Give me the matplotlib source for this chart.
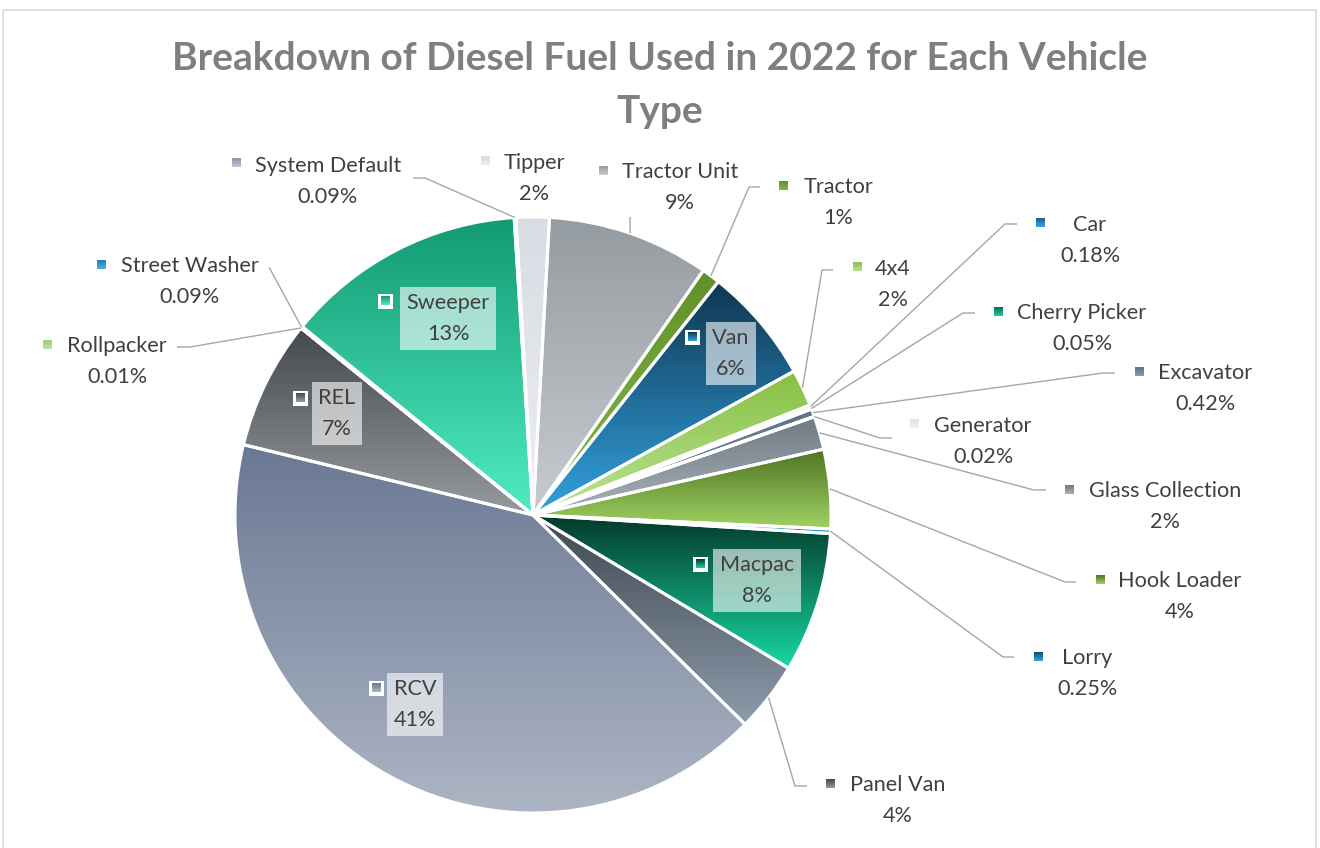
import numpy as np
import matplotlib.pyplot as plt
from matplotlib.colors import to_rgb
from matplotlib.patches import Rectangle

plt.rcParams['font.family'] = ['Lato', 'DejaVu Sans']

# diesel share per vehicle type (%), in the order the slices run clockwise
vehicles = ["Tipper", "Tractor Unit", "Tractor", "Van", "4x4", "Car", "Cherry Picker",
            "Excavator", "Generator", "Glass Collection", "Hook Loader", "Lorry", "Macpac",
            "Panel Van", "RCV", "REL", "Rollpacker", "Street Washer", "Sweeper", "System Default"]
share = [1.8, 8.8, 1.0, 6.3, 2.0, 0.18, 0.05, 0.42, 0.02, 1.8, 4.29, 0.25, 7.6,
         3.8, 41.4, 7.0, 0.01, 0.09, 13.1, 0.09]

# gradient colours for each slice: (top, bottom)
shade_top = ["#d9dce3", "#949ba0", "#5f9128", "#0e3650", "#86c043", "#1a5f8a", "#0a6b50",
             "#5e7188", "#e0e3ea", "#6e7a84", "#4f7424", "#0f4a6e", "#03382a",
             "#3f4852", "#6a7893", "#43494e", "#9ccf6a", "#1f7fb8", "#139a73", "#8a94a3"]
shade_bot = ["#eceef2", "#c8ccd0", "#86b94c", "#33a3e0", "#bde396", "#3aa7e0", "#20d0a0",
             "#8a9bb0", "#eef0f4", "#aab1b8", "#a0d262", "#3aa6e0", "#18d8a2",
             "#8e9bab", "#adb5c4", "#979ba0", "#c2e3a0", "#4ab0e0", "#50ecc4", "#c0c6cf"]

CX, CY, R = 533, 515, 298
TEXT = "#404040"
LEADER = "#a6a6a6"
FS = 15.6
LS = 1.63

# label layout: (text centre x, name line y), legend key square centre, leader path
inside = {
    "Sweeper": (448, 302, 385, 301),
    "Van": (731, 337, 692, 337),
    "REL": (337, 397, 300, 398),
    "Macpac": (757, 564, 700, 564),
    "RCV": (415, 688, 376, 688),
}
outside = {
    "System Default": (328, 165, 236, 163, [(413, 178), (425, 178)]),
    "Tipper": (534, 162, 485, 161, None),
    "Tractor Unit": (680, 171, 603, 171, [(630, 217)]),
    "Tractor": (838, 186, 783, 186, [(760, 187), (749, 187)]),
    "4x4": (893, 268, 857, 267, [(833, 270), (822, 270)]),
    "Car": (1090, 224, 1040, 223, [(1017, 224), (1005, 224)]),
    "Cherry Picker": (1082, 312, 998, 312, [(975, 313), (963, 313)]),
    "Excavator": (1205, 372, 1139, 372, [(1115, 373), (1103, 373)]),
    "Generator": (983, 425, 914, 424, [(892, 438), (880, 438)]),
    "Glass Collection": (1165, 490, 1069, 490, [(1046, 490), (1034, 490)]),
    "Hook Loader": (1180, 580, 1100, 580, [(1076, 582), (1065, 582)]),
    "Lorry": (1087, 657, 1038, 657, [(1014, 657), (1003, 657)]),
    "Panel Van": (898, 784, 830, 784, [(807, 786), (795, 786)]),
    "Street Washer": (190, 265, 101, 265, [(269, 267)]),
    "Rollpacker": (117, 345, 47, 345, [(177, 347), (190, 347)]),
}


def pct_text(v):
    return f"{v:.2f}%" if v < 1 else f"{v:.0f}%"


def grad_fill(ax, x0, x1, ytop, ybot, c_top, c_bot, clip=None, z=1):
    t = np.linspace(0, 1, 256)[:, None]
    a = np.array(to_rgb(c_top))
    b = np.array(to_rgb(c_bot))
    img = (a + (b - a) * t)[:, None, :]
    im = ax.imshow(img, extent=[x0, x1, ybot, ytop], origin="upper",
                   aspect="auto", interpolation="bilinear", zorder=z)
    if clip is not None:
        im.set_clip_path(clip)
    return im


fig = plt.figure(figsize=(13.2, 8.48), dpi=100)
ax = fig.add_axes([0, 0, 1, 1])

# y axis runs downward, so counterclock=True turns clockwise on screen
wedges, _ = ax.pie(share, center=(CX, CY), radius=R, startangle=270 - 3.3,
                   counterclock=True,
                   wedgeprops=dict(edgecolor="white", linewidth=2.2))

for i, w in enumerate(wedges):
    ext = w.get_path().get_extents()
    grad_fill(ax, ext.x0, ext.x1, ext.y0, ext.y1, shade_top[i], shade_bot[i], clip=w, z=1)
    w.set_facecolor("none")
    w.set_zorder(3)

idx = {name: i for i, name in enumerate(vehicles)}

for name, (tx, ty, kx, ky) in inside.items():
    i = idx[name]
    ax.text(tx, ty + 16.5, f"{name}\n{pct_text(share[i])}", ha="center", va="center",
            fontsize=FS, color=TEXT, linespacing=LS, zorder=5,
            bbox=dict(boxstyle="square,pad=0.3", fc="white", ec="none", alpha=0.6))
    ax.add_patch(Rectangle((kx - 7.5, ky - 7.5), 15, 15, fc="white", ec="none", zorder=5))
    grad_fill(ax, kx - 4.5, kx + 4.5, ky - 4.5, ky + 4.5, shade_top[i], shade_bot[i], z=6)

for name, (tx, ty, kx, ky, path) in outside.items():
    i = idx[name]
    ax.text(tx, ty + 16.5, f"{name}\n{pct_text(share[i])}", ha="center", va="center",
            fontsize=FS, color=TEXT, linespacing=LS, zorder=5)
    grad_fill(ax, kx - 4.5, kx + 4.5, ky - 4.5, ky + 4.5, shade_top[i], shade_bot[i], z=6)
    if path:
        w = wedges[i]
        mid = np.deg2rad((w.theta1 + w.theta2) / 2)
        anchor = (CX + R * np.cos(mid), CY + R * np.sin(mid))
        xs = [p[0] for p in path] + [anchor[0]]
        ys = [p[1] for p in path] + [anchor[1]]
        ax.plot(xs, ys, color=LEADER, lw=1.0, zorder=4, solid_capstyle="butt")

ax.text(660, 70, "Breakdown of Diesel Fuel Used in 2022 for Each Vehicle", ha="center",
        va="baseline", fontsize=28, fontweight="bold", color="#7f7f7f")
ax.text(660, 123, "Type", ha="center", va="baseline", fontsize=28,
        fontweight="bold", color="#7f7f7f")

ax.add_patch(Rectangle((3, 9.5), 1312.5, 850, fill=False, ec="#d9d9d9", lw=1.2, zorder=0))

ax.set_xlim(0, 1320)
ax.set_ylim(848, 0)
ax.set_aspect("auto")
ax.axis("off")

fig.savefig("out.png", dpi=100)
